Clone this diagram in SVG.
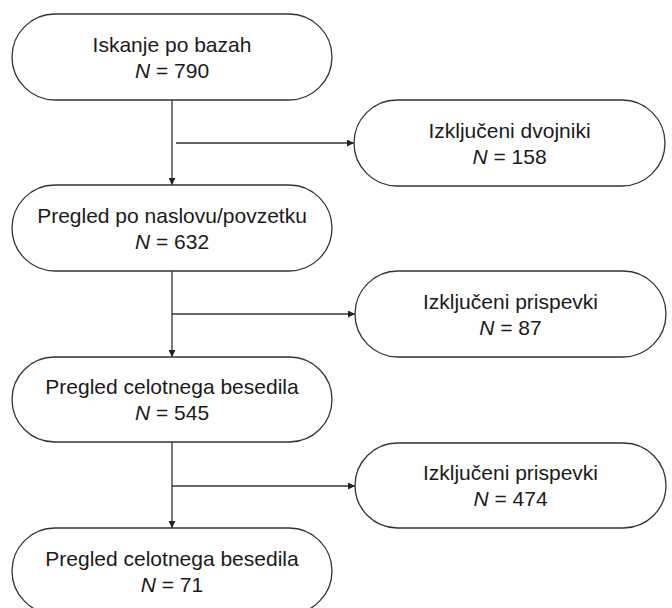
<svg xmlns="http://www.w3.org/2000/svg" width="672" height="608" viewBox="0 0 672 608">
<style>
.box{fill:#fff;stroke:#333;stroke-width:1.3}
.t{font-family:"Liberation Sans",Arial,sans-serif;font-size:21px;fill:#1a1a1a;text-anchor:middle}
.c{fill:none;stroke:#333;stroke-width:1.3}
</style>
<defs>
<marker id="ah" viewBox="0 0 10 10" refX="10" refY="5" markerWidth="7" markerHeight="7" markerUnits="userSpaceOnUse" orient="auto">
<path d="M0,0 L10,5 L0,10 Z" fill="#222"/>
</marker>
</defs>
<rect width="672" height="608" fill="#fff"/>
<g id="connectors">
<path class="c" d="M172,100 V185" marker-end="url(#ah)"/>
<path class="c" d="M176,143 H354" marker-end="url(#ah)"/>
<path class="c" d="M172,271 V357" marker-end="url(#ah)"/>
<path class="c" d="M172,314 H355" marker-end="url(#ah)"/>
<path class="c" d="M172,442 V528" marker-end="url(#ah)"/>
<path class="c" d="M172,486 H355" marker-end="url(#ah)"/>
</g>
<g id="n1">
<rect class="box" x="12" y="14" width="320" height="86" rx="43" ry="43"/>
<text class="t" x="172" y="52">Iskanje po bazah</text>
<text class="t" x="172" y="78"><tspan font-style="italic">N</tspan> = 790</text>
</g>
<g id="s1">
<rect class="box" x="354" y="100" width="311" height="86" rx="43" ry="43"/>
<text class="t" x="509.5" y="138">Izključeni dvojniki</text>
<text class="t" x="509.5" y="164"><tspan font-style="italic">N</tspan> = 158</text>
</g>
<g id="n2">
<rect class="box" x="12" y="185" width="320" height="86" rx="43" ry="43"/>
<text class="t" x="172" y="223">Pregled po naslovu/povzetku</text>
<text class="t" x="172" y="249"><tspan font-style="italic">N</tspan> = 632</text>
</g>
<g id="s2">
<rect class="box" x="355" y="271" width="311" height="86" rx="43" ry="43"/>
<text class="t" x="510.5" y="309">Izključeni prispevki</text>
<text class="t" x="510.5" y="335"><tspan font-style="italic">N</tspan> = 87</text>
</g>
<g id="n3">
<rect class="box" x="12" y="357" width="320" height="85" rx="42.5" ry="42.5"/>
<text class="t" x="172" y="394">Pregled celotnega besedila</text>
<text class="t" x="172" y="420"><tspan font-style="italic">N</tspan> = 545</text>
</g>
<g id="s3">
<rect class="box" x="355" y="443" width="311" height="85" rx="42.5" ry="42.5"/>
<text class="t" x="510.5" y="480">Izključeni prispevki</text>
<text class="t" x="510.5" y="506"><tspan font-style="italic">N</tspan> = 474</text>
</g>
<g id="n4">
<rect class="box" x="12" y="528" width="320" height="86" rx="43" ry="43"/>
<text class="t" x="172" y="566">Pregled celotnega besedila</text>
<text class="t" x="172" y="592"><tspan font-style="italic">N</tspan> = 71</text>
</g>
</svg>
